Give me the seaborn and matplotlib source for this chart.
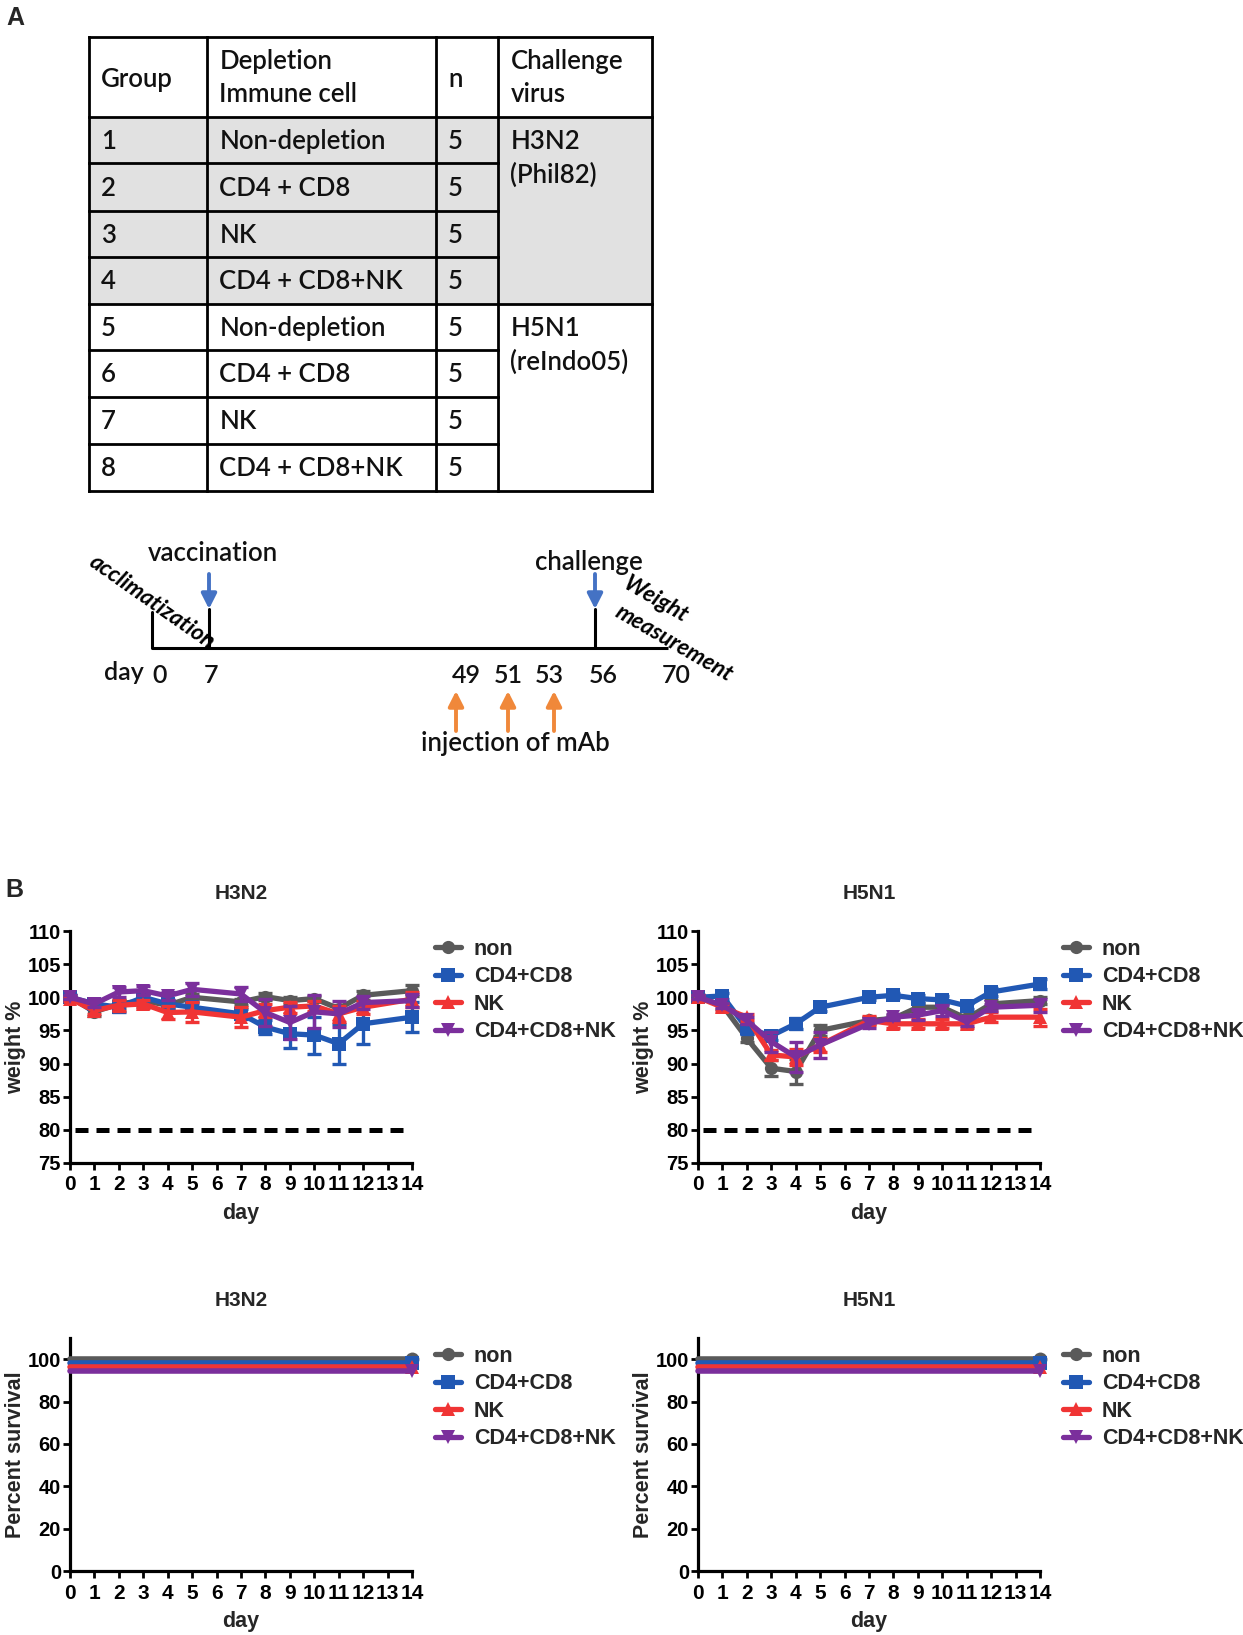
import numpy as np
import pandas as pd
import matplotlib
matplotlib.use("Agg")
import matplotlib.pyplot as plt
import seaborn as sns
from matplotlib.transforms import ScaledTranslation
from matplotlib.lines import Line2D
from matplotlib.patches import Rectangle

# ------------------------------------------------------------------ data
table_header = ["Group", ["Depletion", "Immune cell"], "n", ["Challenge", "virus"]]
group_ids = ["1", "2", "3", "4", "5", "6", "7", "8"]
depletion = ["Non-depletion", "CD4 + CD8", "NK", "CD4 + CD8+NK",
             "Non-depletion", "CD4 + CD8", "NK", "CD4 + CD8+NK"]
n_mice = ["5", "5", "5", "5", "5", "5", "5", "5"]
challenge_virus = [["H3N2", "(Phil82)"], ["H5N1", "(reIndo05)"]]

timeline_days = ["0", "7", "49", "51", "53", "56", "70"]
timeline_events = ["vaccination", "challenge", "injection of mAb"]

days = [0, 1, 2, 3, 4, 5, 7, 8, 9, 10, 11, 12, 14]
groups = ["non", "CD4+CD8", "NK", "CD4+CD8+NK"]

h3n2_non = [100, 97.8, 99.0, 99.5, 98.8, 100.0, 99.3, 100.1, 99.5, 99.8, 98.3, 100.3, 101.0]
h3n2_non_err = [0.3, 0.6, 0.6, 1.0, 0.6, 0.5, 0.5, 0.5, 0.5, 0.4, 0.5, 0.7, 0.8]
h3n2_cd4cd8 = [100, 99.0, 98.5, 100.0, 99.0, 98.5, 97.5, 95.5, 94.5, 94.3, 93.0, 96.0, 97.0]
h3n2_cd4cd8_err = [0.3, 0.7, 0.7, 0.5, 0.6, 0.7, 0.8, 1.0, 2.2, 2.8, 3.0, 3.0, 2.3]
h3n2_nk = [99.8, 98.0, 98.8, 99.0, 97.7, 97.8, 97.0, 98.0, 98.5, 98.7, 97.5, 98.5, 99.7]
h3n2_nk_err = [0.3, 0.5, 0.8, 0.6, 1.0, 1.5, 1.5, 1.0, 0.8, 0.8, 1.2, 1.0, 1.1]
h3n2_cd4cd8nk = [100, 99.0, 100.8, 101.0, 100.2, 101.2, 100.5, 97.7, 96.2, 97.8, 97.5, 99.2, 99.5]
h3n2_cd4cd8nk_err = [0.3, 0.5, 0.7, 0.7, 0.6, 1.0, 1.0, 2.0, 2.5, 2.5, 2.0, 1.0, 1.0]

h5n1_non = [100, 98.8, 93.8, 89.3, 88.8, 95.0, 96.5, 96.8, 98.5, 98.5, 96.8, 99.0, 99.5]
h5n1_non_err = [0.3, 0.5, 0.6, 1.2, 1.9, 0.8, 0.6, 0.6, 0.6, 0.6, 0.6, 0.6, 0.5]
h5n1_cd4cd8 = [100, 100.2, 95.3, 94.2, 96.0, 98.5, 100.0, 100.3, 99.8, 99.6, 98.7, 100.8, 102.0]
h5n1_cd4cd8_err = [0.3, 0.5, 0.8, 0.7, 0.8, 0.5, 0.4, 0.4, 0.6, 0.6, 0.5, 0.6, 0.7]
h5n1_nk = [100, 98.5, 97.0, 91.3, 91.0, 92.8, 96.5, 96.0, 96.0, 96.0, 96.0, 97.0, 97.0]
h5n1_nk_err = [0.3, 0.5, 0.5, 0.8, 1.2, 1.0, 0.7, 0.6, 0.7, 0.7, 0.7, 0.8, 1.3]
h5n1_cd4cd8nk = [100, 98.8, 96.5, 93.3, 91.0, 92.8, 96.0, 97.0, 97.3, 98.0, 96.3, 98.5, 98.8]
h5n1_cd4cd8nk_err = [0.3, 0.4, 0.6, 1.5, 2.2, 2.0, 0.7, 0.5, 0.8, 0.8, 0.7, 0.5, 1.0]

threshold = 80

surv_days = [0, 14]
surv_h3n2 = [[100, 100], [100, 100], [100, 100], [100, 100]]
surv_h5n1 = [[100, 100], [100, 100], [100, 100], [100, 100]]

# ------------------------------------------------------------------ style
sns.set_theme(style="ticks")
plt.rcParams["font.family"] = ["Liberation Sans", "DejaVu Sans"]
plt.rcParams["font.weight"] = "bold"
TFONT = ["Lato", "DejaVu Sans"]
TW = "semibold"

palette = {"non": "#5a5a5a", "CD4+CD8": "#2158b4", "NK": "#f03434", "CD4+CD8+NK": "#7b2f9c"}
marker_map = {"non": "o", "CD4+CD8": "s", "NK": "^", "CD4+CD8+NK": "v"}

W, H = 1243, 1635
fig = plt.figure(figsize=(W / 100, H / 100), dpi=100)


def add_ax_px(x0, ytop, x1, ybot):
    return fig.add_axes([x0 / W, 1 - ybot / H, (x1 - x0) / W, (ybot - ytop) / H])


# ------------------------------------------------------------------ overlay (table + timeline)
ov = fig.add_axes([0, 0, 1, 1], zorder=0)
ov.set_xlim(0, W)
ov.set_ylim(H, 0)
ov.axis("off")

txt_col = "#111111"
fig.text(15 / W, 1 - 18 / H, "A", fontsize=18, fontweight="bold", ha="center", va="center")
fig.text(14 / W, 1 - 890 / H, "B", fontsize=18, fontweight="bold", ha="center", va="center")

col_x = [88.6, 207.5, 435.9, 498.4, 651.8]
row_y = [37.3, 117.3, 163.3, 210.7, 257.3, 304.0, 350.0, 396.7, 444.0, 490.7]
tlw = 2.0

ov.add_patch(Rectangle((col_x[0], row_y[1]), col_x[4] - col_x[0], row_y[5] - row_y[1],
                       facecolor="#e1e1e1", edgecolor="none", zorder=1))
for i, y in enumerate(row_y):
    full = i in (0, 1, 5, 9)
    ov.plot([col_x[0], col_x[4] if full else col_x[3]], [y, y], color="black", lw=tlw,
            solid_capstyle="projecting", zorder=2)
for x in col_x:
    ov.plot([x, x], [row_y[0], row_y[-1]], color="black", lw=tlw, solid_capstyle="projecting", zorder=2)

tfs = 18.5
pad = 12
hy = (row_y[0] + row_y[1]) / 2


def ttext(x, y, s, fs=tfs, **kw):
    ov.text(x, y, s, fontsize=fs, family=TFONT, fontweight=kw.pop("weight", TW),
            va="center", ha=kw.pop("ha", "left"), color=kw.pop("color", txt_col), **kw)


for ci, h in enumerate(table_header):
    if isinstance(h, list):
        ttext(col_x[ci] + pad, hy - 16, h[0])
        ttext(col_x[ci] + pad, hy + 17, h[1])
    else:
        ttext(col_x[ci] + pad, hy + 2, h)
for r in range(8):
    yc = (row_y[r + 1] + row_y[r + 2]) / 2
    for ci, val in enumerate([group_ids[r], depletion[r], n_mice[r]]):
        ttext(col_x[ci] + pad, yc + 1, val)
for k, cv in enumerate(challenge_virus):
    y0 = (row_y[1 + 4 * k] + row_y[2 + 4 * k]) / 2 + 1
    ttext(col_x[3] + pad, y0, cv[0])
    ttext(col_x[3] + pad, y0 + 34, cv[1])

# timeline
line_y = 648
ov.plot([152, 668], [line_y, line_y], color="black", lw=2.2, solid_capstyle="butt")
for x, top in [(152, 612), (209, 609), (595, 609)]:
    ov.plot([x, x], [top, line_y], color="black", lw=2.2)
blue = "#4472c4"
orange = "#f0883a"
for x in (209, 595):
    ov.annotate("", xy=(x, 609), xytext=(x, 574),
                arrowprops=dict(arrowstyle="-|>,head_width=0.38,head_length=0.75", color=blue, lw=2.8,
                                shrinkA=0, shrinkB=0))
for x in (456, 508, 554):
    ov.annotate("", xy=(x, 691), xytext=(x, 731),
                arrowprops=dict(arrowstyle="-|>,head_width=0.38,head_length=0.75", color=orange, lw=2.8,
                                shrinkA=0, shrinkB=0))
lab_x = [160, 211, 466, 508, 549, 603, 676]
tl_fs = 18
ttext(124, 672, "day", fs=tl_fs, ha="center")
for x, d in zip(lab_x, timeline_days):
    ttext(x, 675, d, fs=tl_fs, ha="center")
ttext(213, 553, timeline_events[0], fs=tl_fs + 0.5, ha="center")
ttext(589, 562, timeline_events[1], fs=tl_fs + 0.5, ha="center")
ttext(515, 743, timeline_events[2], fs=tl_fs + 0.5, ha="center")
ttext(152, 602, "acclimatization", fs=16.5, weight="bold", style="italic",
      rotation=-35, rotation_mode="anchor", ha="center", color="black")
ttext(656, 600, "Weight", fs=16.5, weight="bold", style="italic",
      rotation=-30, rotation_mode="anchor", ha="center", color="black")
ttext(674, 643, "measurement", fs=16.5, weight="bold", style="italic",
      rotation=-30, rotation_mode="anchor", ha="center", color="black")

# ------------------------------------------------------------------ charts
LW = 3.8
MS = 9.5


def style_axes(ax, ylim, yticks, ylabel, title):
    ax.set_xlim(0, 14)
    ax.set_ylim(*ylim)
    ax.set_xticks(range(15))
    ax.set_yticks(yticks)
    for s in ("top", "right"):
        ax.spines[s].set_visible(False)
    for s in ("left", "bottom"):
        ax.spines[s].set_linewidth(2.3)
        ax.spines[s].set_color("black")
    ax.tick_params(direction="out", length=5, width=2.0, labelsize=14.5, colors="black", pad=1.5)
    ax.tick_params(axis="x", pad=4, labelsize=15)
    ax.set_xlabel("day", fontsize=15.5, fontweight="bold", labelpad=6)
    ax.set_ylabel(ylabel, fontsize=15.5, fontweight="bold", labelpad=1)
    ax.set_title(title, fontsize=15, fontweight="bold", pad=23)
    ax.set_facecolor("none")


def add_legend(x_px, ytop_px):
    handles = [Line2D([], [], color=palette[g], marker=marker_map[g], lw=LW, markersize=MS,
                      markeredgewidth=0) for g in groups]
    fig.legend(handles, groups, loc="upper left", bbox_to_anchor=(x_px / W, 1 - ytop_px / H),
               bbox_transform=fig.transFigure, frameon=False, prop={"size": 15.5, "weight": "bold"},
               handlelength=1.2, handletextpad=0.6, labelspacing=0.3, borderpad=0, borderaxespad=0)


def weight_panel(ax, series, errs, title):
    frames = [pd.DataFrame({"day": days, "weight": v, "group": g}) for g, v in zip(groups, series)]
    df = pd.concat(frames, ignore_index=True)
    sns.lineplot(data=df, x="day", y="weight", hue="group", style="group", hue_order=groups,
                 style_order=groups, palette=palette, markers=marker_map, dashes=False,
                 linewidth=LW, markersize=MS, markeredgewidth=0, errorbar=None, legend=False,
                 ax=ax, clip_on=False)
    for i, ln in enumerate(ax.lines):
        ln.set_zorder(4 + i)
    for i, (g, v, e) in enumerate(zip(groups, series, errs)):
        eb = ax.errorbar(days, v, yerr=e, fmt="none", ecolor=palette[g], elinewidth=2.4,
                         capsize=4.8, capthick=2.4, zorder=3.9 + i)
        for art in eb.lines[1] + eb.lines[2]:
            art.set_clip_on(False)
    ax.hlines(threshold, 0.2, 13.7, colors="black", linestyles=(0, (2.6, 1.6)), lw=3.6, zorder=2)
    style_axes(ax, (75, 110), range(75, 111, 5), "weight %", title)


def survival_panel(ax, series, title):
    offsets = [0, 2.9, 5.8, 8.4]
    for i, (g, v) in enumerate(zip(groups, series)):
        n0 = len(ax.lines)
        sns.lineplot(x=surv_days, y=v, color=palette[g], marker=marker_map[g], markevery=[1],
                     linewidth=LW + 0.2, markersize=MS + 0.5, markeredgewidth=0, ax=ax, clip_on=False,
                     errorbar=None, legend=False)
        for ln in ax.lines[n0:]:
            ln.set_transform(ax.transData + ScaledTranslation(0, -offsets[i] / 72, fig.dpi_scale_trans))
            ln.set_zorder(4 + i)
    style_axes(ax, (0, 110), range(0, 101, 20), "Percent survival", title)


ax1 = add_ax_px(70, 931, 412, 1163)
weight_panel(ax1, [h3n2_non, h3n2_cd4cd8, h3n2_nk, h3n2_cd4cd8nk],
             [h3n2_non_err, h3n2_cd4cd8_err, h3n2_nk_err, h3n2_cd4cd8nk_err], "H3N2")
ax2 = add_ax_px(698, 931, 1040, 1163)
weight_panel(ax2, [h5n1_non, h5n1_cd4cd8, h5n1_nk, h5n1_cd4cd8nk],
             [h5n1_non_err, h5n1_cd4cd8_err, h5n1_nk_err, h5n1_cd4cd8nk_err], "H5N1")
ax3 = add_ax_px(70, 1338, 412, 1571)
survival_panel(ax3, surv_h3n2, "H3N2")
ax4 = add_ax_px(698, 1338, 1040, 1571)
survival_panel(ax4, surv_h5n1, "H5N1")

add_legend(435, 939)
add_legend(1063, 939)
add_legend(435, 1346)
add_legend(1063, 1346)

fig.savefig("out.png", dpi=100, facecolor="white")
